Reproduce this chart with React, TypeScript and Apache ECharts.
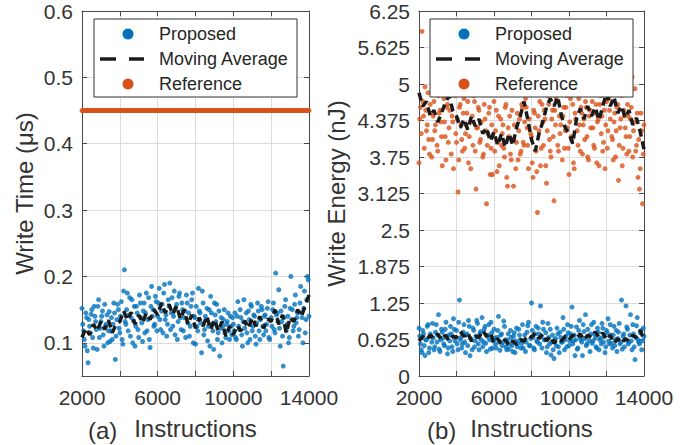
import React, { useEffect, useRef } from "react";
import * as echarts from "echarts";

// ---- data ----
// Scatter samples: set A at 2000 + 80·i, set B at 2040 + 80·i
const SCATTER_START_A = 2000;
const SCATTER_START_B = 2040;
const SCATTER_STEP = 80;
const MA_START = 2000;
const MA_STEP = 200;

const xTickLabels = [2000, 6000, 10000, 14000];
const timeTicks = [0.1, 0.2, 0.3, 0.4, 0.5, 0.6];
const energyTicks = [0, 0.625, 1.25, 1.875, 2.5, 3.125, 3.75, 4.375, 5, 5.625, 6.25];

const referenceTime = 0.45; // µs, constant for the reference design

const proposedTimeA = [
  0.152, 0.118, 0.095, 0.138, 0.070, 0.125, 0.143, 0.108, 0.155, 0.132,
  0.090, 0.165, 0.122, 0.140, 0.112, 0.158, 0.128, 0.100, 0.147, 0.118,
  0.105, 0.160, 0.075, 0.135, 0.150, 0.115, 0.162, 0.098, 0.210, 0.128,
  0.175, 0.142, 0.110, 0.165, 0.133, 0.095, 0.155, 0.120, 0.172, 0.138,
  0.102, 0.160, 0.145, 0.118, 0.168, 0.093, 0.185, 0.150, 0.128, 0.162,
  0.140, 0.182, 0.120, 0.158, 0.175, 0.135, 0.110, 0.165, 0.190, 0.145,
  0.125, 0.178, 0.152, 0.105, 0.170, 0.138, 0.160, 0.118, 0.148, 0.172,
  0.130, 0.110, 0.155, 0.175, 0.140, 0.098, 0.125, 0.182, 0.145, 0.085,
  0.160, 0.120, 0.135, 0.103, 0.150, 0.170, 0.128, 0.090, 0.142, 0.158,
  0.115, 0.080, 0.138, 0.125, 0.150, 0.108, 0.132, 0.118, 0.140, 0.112,
  0.128, 0.145, 0.105, 0.162, 0.120, 0.138, 0.095, 0.165, 0.130, 0.115,
  0.148, 0.105, 0.155, 0.125, 0.140, 0.098, 0.160, 0.118, 0.135, 0.150,
  0.112, 0.142, 0.128, 0.162, 0.105, 0.138, 0.150, 0.120, 0.205, 0.145,
  0.180, 0.095, 0.132, 0.065, 0.155, 0.118, 0.140, 0.108, 0.200, 0.150,
  0.125, 0.172, 0.138, 0.110, 0.160, 0.145, 0.100, 0.178, 0.135, 0.200,
  0.140,
];

const proposedTimeB = [
  0.128, 0.105, 0.145, 0.088, 0.135, 0.115, 0.150, 0.092, 0.140, 0.120,
  0.155, 0.108, 0.132, 0.148, 0.095, 0.125, 0.142, 0.118, 0.102, 0.138,
  0.128, 0.145, 0.110, 0.158, 0.122, 0.140, 0.105, 0.178, 0.132, 0.150,
  0.118, 0.168, 0.138, 0.100, 0.155, 0.125, 0.145, 0.108, 0.160, 0.130,
  0.148, 0.115, 0.175, 0.135, 0.105, 0.155, 0.140, 0.125, 0.170, 0.118,
  0.160, 0.135, 0.148, 0.115, 0.188, 0.142, 0.128, 0.155, 0.120, 0.168,
  0.140, 0.112, 0.158, 0.132, 0.175, 0.120, 0.150, 0.138, 0.108, 0.160,
  0.145, 0.125, 0.165, 0.100, 0.138, 0.155, 0.118, 0.148, 0.130, 0.178,
  0.112, 0.140, 0.152, 0.125, 0.095, 0.145, 0.118, 0.160, 0.132, 0.105,
  0.148, 0.122, 0.100, 0.135, 0.115, 0.128, 0.145, 0.105, 0.125, 0.138,
  0.118, 0.108, 0.140, 0.125, 0.150, 0.112, 0.132, 0.122, 0.145, 0.100,
  0.135, 0.158, 0.118, 0.142, 0.110, 0.130, 0.148, 0.105, 0.155, 0.125,
  0.140, 0.118, 0.152, 0.108, 0.135, 0.125, 0.160, 0.115, 0.142, 0.132,
  0.122, 0.148, 0.110, 0.138, 0.165, 0.128, 0.100, 0.152, 0.135, 0.118,
  0.158, 0.130, 0.145, 0.120, 0.185, 0.138, 0.152, 0.115, 0.165, 0.195,
];

const movingAvgTime = [
  0.108, 0.122, 0.112, 0.128, 0.118, 0.132, 0.120, 0.134, 0.115, 0.128,
  0.132, 0.148, 0.134, 0.146, 0.128, 0.142, 0.130, 0.145, 0.135, 0.150,
  0.142, 0.160, 0.145, 0.158, 0.143, 0.156, 0.136, 0.150, 0.128, 0.142,
  0.122, 0.138, 0.125, 0.140, 0.120, 0.135, 0.118, 0.132, 0.110, 0.125,
  0.112, 0.126, 0.118, 0.133, 0.122, 0.138, 0.125, 0.140, 0.122, 0.136,
  0.132, 0.150, 0.128, 0.142, 0.115, 0.138, 0.132, 0.150, 0.140, 0.156,
  0.172,
];

const proposedEnergyA = [
  0.82, 0.55, 0.40, 0.72, 0.35, 0.62, 0.88, 0.48, 0.68, 0.90,
  0.45, 0.75, 0.58, 1.05, 0.42, 0.80, 0.65, 0.52, 0.92, 0.38,
  0.70, 0.85, 0.50, 0.98, 0.60, 0.78, 0.45, 1.30, 0.66, 0.55,
  0.88, 0.40, 0.72, 0.95, 0.35, 0.62, 0.82, 0.50, 0.68, 0.90,
  0.45, 0.76, 1.00, 0.58, 0.85, 0.42, 0.70, 0.62, 0.92, 0.48,
  0.80, 0.55, 0.66, 1.02, 0.44, 0.72, 0.58, 0.85, 0.50, 0.62,
  0.46, 0.78, 0.52, 0.68, 0.40, 0.82, 0.56, 0.70, 0.48, 0.88,
  0.60, 0.42, 0.75, 0.92, 0.52, 1.25, 0.66, 0.45, 0.85, 0.58,
  0.72, 1.20, 0.48, 0.80, 0.62, 0.40, 0.90, 0.55, 0.36, 0.70,
  0.30, 0.64, 0.82, 0.50, 0.75, 0.58, 1.00, 0.45, 0.68, 0.88,
  0.52, 0.72, 1.18, 0.60, 0.35, 0.84, 0.48, 0.95, 0.62, 0.35,
  0.76, 1.05, 0.55, 0.68, 0.42, 0.88, 0.60, 0.72, 0.50, 0.82,
  0.45, 0.65, 0.90, 0.58, 0.40, 0.78, 0.98, 0.55, 0.70, 0.48,
  0.85, 0.62, 0.42, 0.75, 0.55, 1.30, 0.68, 0.50, 1.20, 0.80,
  0.58, 1.05, 0.45, 0.72, 0.28, 0.86, 0.62, 0.55, 0.78, 0.60,
  0.68,
];

const proposedEnergyB = [
  0.68, 0.45, 0.78, 0.52, 0.62, 0.85, 0.40, 0.72, 0.58, 0.65,
  0.50, 0.88, 0.70, 0.46, 0.62, 0.75, 0.55, 0.80, 0.68, 0.48,
  0.60, 0.72, 0.42, 0.80, 0.66, 0.55, 0.92, 0.62, 0.48, 0.75,
  0.58, 0.70, 0.52, 0.85, 0.64, 0.45, 0.78, 0.60, 0.95, 0.55,
  0.72, 0.62, 0.50, 0.80, 0.56, 0.68, 0.88, 0.46, 0.74, 0.60,
  0.65, 0.48, 0.78, 0.58, 0.70, 0.52, 0.94, 0.62, 0.45, 0.72,
  0.55, 0.66, 0.42, 0.74, 0.60, 0.50, 0.80, 0.62, 0.56, 0.48,
  0.70, 0.58, 0.86, 0.52, 0.64, 0.78, 0.48, 0.72, 0.60, 0.82,
  0.55, 0.68, 0.92, 0.62, 0.74, 0.50, 0.66, 0.80, 0.58, 0.45,
  0.62, 0.52, 0.72, 0.40, 0.66, 0.58, 0.80, 0.62, 0.50, 0.74,
  0.60, 0.85, 0.55, 0.70, 0.62, 0.46, 0.78, 0.66, 0.58, 0.88,
  0.64, 0.52, 0.80, 0.60, 0.72, 0.56, 0.92, 0.65, 0.48, 0.75,
  0.62, 0.55, 0.82, 0.68, 0.50, 0.74, 0.60, 0.88, 0.56, 0.70,
  0.52, 0.78, 0.64, 0.90, 0.58, 0.46, 0.72, 0.62, 0.84, 0.55,
  0.70, 0.60, 0.88, 0.50, 0.66, 1.00, 0.58, 0.74, 0.45, 0.82,
];

const movingAvgProposedEnergy = [
  0.60, 0.68, 0.62, 0.70, 0.64, 0.72, 0.62, 0.70, 0.60, 0.68,
  0.66, 0.76, 0.68, 0.74, 0.60, 0.68, 0.66, 0.78, 0.68, 0.74,
  0.56, 0.64, 0.54, 0.62, 0.52, 0.60, 0.54, 0.62, 0.60, 0.70,
  0.66, 0.74, 0.64, 0.72, 0.60, 0.68, 0.56, 0.64, 0.60, 0.68,
  0.62, 0.70, 0.64, 0.72, 0.62, 0.70, 0.66, 0.76, 0.66, 0.74,
  0.62, 0.70, 0.56, 0.64, 0.56, 0.64, 0.60, 0.70, 0.66, 0.78,
  0.62,
];

const referenceEnergyA = [
  3.65, 4.60, 5.90, 4.45, 4.95, 4.20, 4.85, 3.80, 4.50, 4.05,
  4.70, 4.30, 3.95, 4.80, 4.55, 4.10, 4.90, 4.35, 3.70, 4.65,
  4.25, 5.10, 4.45, 3.55, 4.80, 4.00, 3.15, 4.60, 4.30, 3.85,
  4.75, 4.15, 4.50, 3.65, 4.95, 4.35, 3.95, 4.70, 3.20, 4.25,
  4.55, 4.05, 4.85, 3.80, 4.40, 2.95, 4.15, 4.60, 3.90, 3.45,
  4.70, 4.20, 3.50, 4.45, 5.00, 3.95, 4.30, 3.75, 4.65, 3.25,
  4.10, 3.80, 4.55, 3.25, 4.90, 4.00, 3.70, 4.40, 3.85, 4.60,
  3.95, 4.75, 4.25, 3.55, 5.05, 4.10, 3.40, 4.50, 3.85, 2.80,
  4.20, 3.60, 4.65, 3.95, 4.40, 3.30, 4.80, 4.05, 3.75, 4.55,
  3.00, 4.30, 4.70, 3.85, 4.15, 5.10, 4.45, 3.90, 4.60, 4.25,
  3.45, 4.75, 4.05, 3.65, 4.50, 4.85, 3.95, 4.30, 4.60, 3.80,
  4.40, 4.70, 4.10, 3.70, 4.55, 4.95, 4.25, 3.90, 4.65, 4.35,
  3.60, 4.80, 4.45, 4.00, 3.55, 4.70, 4.20, 4.55, 5.00, 4.05,
  4.35, 3.75, 4.60, 3.35, 4.25, 4.80, 3.90, 4.45, 4.10, 4.65,
  3.85, 4.40, 5.12, 4.20, 4.92, 3.95, 3.40, 3.20, 4.50, 2.95,
  4.30,
];

const referenceEnergyB = [
  4.40, 4.15, 4.70, 3.90, 4.55, 4.30, 4.05, 4.65, 3.75, 4.45,
  4.20, 4.85, 3.85, 4.50, 4.35, 3.60, 4.75, 4.10, 4.60, 4.00,
  4.55, 3.80, 4.35, 4.90, 4.15, 4.40, 3.70, 4.65, 4.05, 4.50,
  3.90, 4.30, 4.70, 4.10, 3.55, 4.45, 4.80, 3.85, 4.25, 4.60,
  4.00, 4.35, 3.75, 4.65, 4.20, 3.95, 4.50, 3.45, 4.30, 4.10,
  3.85, 4.55, 4.00, 3.60, 4.40, 4.15, 3.90, 4.60, 3.40, 4.25,
  4.45, 3.70, 4.05, 4.30, 3.55, 4.50, 4.20, 3.80, 4.65, 4.00,
  4.35, 4.60, 3.95, 4.40, 4.15, 3.65, 4.55, 4.25, 3.50, 4.45,
  4.70, 3.90, 4.35, 4.55, 3.60, 4.20, 4.65, 3.85, 4.40, 4.10,
  4.55, 4.75, 3.95, 4.45, 4.30, 3.70, 4.60, 4.20, 4.80, 3.90,
  4.35, 4.10, 4.65, 3.55, 4.40, 4.20, 4.75, 3.85, 4.50, 4.30,
  4.05, 4.60, 3.75, 4.45, 4.25, 4.70, 3.95, 4.50, 3.65, 4.40,
  4.65, 4.15, 3.85, 4.55, 4.30, 3.90, 4.75, 4.40, 4.10, 3.70,
  4.50, 4.20, 4.65, 3.95, 4.40, 3.60, 4.55, 4.25, 3.80, 4.45,
  4.10, 4.60, 3.75, 4.35, 3.85, 4.50, 4.05, 3.55, 4.20, 3.80,
];

const movingAvgReferenceEnergy = [
  4.85, 4.62, 4.70, 4.45, 4.55, 4.35, 4.50, 4.68, 4.80, 4.55,
  4.45, 4.25, 4.40, 4.22, 4.45, 4.28, 4.40, 4.15, 4.25, 4.02,
  4.18, 3.95, 4.15, 3.92, 4.15, 3.95, 4.25, 4.45, 4.70, 4.40,
  4.05, 3.85, 4.15, 4.35, 4.60, 4.75, 4.62, 4.78, 4.45, 4.25,
  4.15, 3.98, 4.40, 4.58, 4.40, 4.62, 4.45, 4.60, 4.38, 4.62,
  4.85, 4.62, 4.78, 4.50, 4.62, 4.42, 4.55, 4.30, 4.42, 4.18,
  3.88,
];

// ---- styling ----
const BLUE = "#0072BD";
const ORANGE = "#D95319";
const MA_COLOR = "#1a1a1a";
const TEXT = "#333333";
const AXIS = "#4a4a4a";
const GRIDLINE = "#dcdcdc";
const FONT = "Liberation Sans, Arial, Helvetica, sans-serif";

const scatterPts = (a: number[], b: number[]) => [
  ...a.map((v, i) => [SCATTER_START_A + i * SCATTER_STEP, v]),
  ...b.map((v, i) => [SCATTER_START_B + i * SCATTER_STEP, v]),
];
const maPts = (vals: number[]) => vals.map((v, i) => [MA_START + i * MA_STEP, v]);

function xAxes(gridIndex: number) {
  const base = {
    type: "value",
    gridIndex,
    min: 2000,
    max: 14000,
    interval: 2000,
    axisLine: { show: true, onZero: false, lineStyle: { color: AXIS, width: 1 } },
    axisTick: { show: true, inside: true, length: 5, lineStyle: { color: AXIS } },
  };
  return [
    {
      ...base,
      position: "bottom",
      name: "Instructions",
      nameLocation: "middle",
      nameGap: 40,
      nameTextStyle: { fontSize: 24, color: TEXT, fontFamily: FONT },
      axisLabel: {
        show: true,
        margin: 11,
        fontSize: 21,
        color: TEXT,
        fontFamily: FONT,
        formatter: (v: number) => (xTickLabels.includes(v) ? String(v) : ""),
      },
      splitLine: { show: true, lineStyle: { color: GRIDLINE, width: 1 } },
    },
    {
      ...base,
      position: "top",
      axisLabel: { show: false },
      splitLine: { show: false },
    },
  ];
}

function yAxes(
  gridIndex: number,
  min: number,
  max: number,
  ticks: number[],
  name: string,
  nameGap: number
) {
  const base = {
    type: "value",
    gridIndex,
    min,
    max,
    axisLine: { show: true, onZero: false, lineStyle: { color: AXIS, width: 1 } },
    axisTick: {
      show: true,
      inside: true,
      length: 5,
      customValues: ticks,
      lineStyle: { color: AXIS },
    },
  };
  return [
    {
      ...base,
      position: "left",
      name,
      nameLocation: "middle",
      nameGap,
      nameTextStyle: { fontSize: 24, color: TEXT, fontFamily: FONT },
      axisLabel: {
        show: true,
        margin: 9,
        fontSize: 21,
        color: TEXT,
        fontFamily: FONT,
        customValues: ticks,
      },
      splitLine: { show: true, lineStyle: { color: GRIDLINE, width: 1 } },
    },
    {
      ...base,
      position: "right",
      axisLabel: { show: false },
      splitLine: { show: false },
    },
  ];
}

function legendGraphic(left: number) {
  const top = 19;
  const labels = ["Proposed", "Moving Average", "Reference"];
  const rows = [34, 59, 84];
  const els: any[] = [
    {
      type: "rect",
      shape: { x: left, y: top, width: 203, height: 78 },
      style: { fill: "#ffffff", stroke: "#333333", lineWidth: 1 },
      z: 100,
    },
    {
      type: "circle",
      shape: { cx: left + 34, cy: rows[0], r: 5.5 },
      style: { fill: BLUE },
      z: 101,
    },
    {
      type: "line",
      shape: { x1: left + 6, y1: rows[1], x2: left + 22, y2: rows[1] },
      style: { stroke: MA_COLOR, lineWidth: 3.5 },
      z: 101,
    },
    {
      type: "line",
      shape: { x1: left + 35, y1: rows[1], x2: left + 50, y2: rows[1] },
      style: { stroke: MA_COLOR, lineWidth: 3.5 },
      z: 101,
    },
    {
      type: "circle",
      shape: { cx: left + 34, cy: rows[2], r: 5.5 },
      style: { fill: ORANGE },
      z: 101,
    },
  ];
  labels.forEach((t, i) => {
    els.push({
      type: "text",
      x: left + 65,
      y: rows[i],
      style: {
        text: t,
        fontSize: 18,
        fontFamily: FONT,
        fill: "#262626",
        verticalAlign: "middle",
        align: "left",
      },
      z: 101,
    });
  });
  return els;
}

export default function App() {
  const ref = useRef<HTMLDivElement>(null);

  useEffect(() => {
    document.body.style.margin = "0";
    if (!ref.current) return;
    const chart = echarts.init(ref.current, undefined, { renderer: "svg" });

    const dashed = {
      type: "line",
      showSymbol: false,
      symbol: "none",
      lineStyle: { color: MA_COLOR, width: 3.5, type: [8, 5] },
      z: 5,
    };

    const refTimePts = [
      ...proposedTimeA.map((_, i) => [SCATTER_START_A + i * SCATTER_STEP, referenceTime]),
      ...proposedTimeB.map((_, i) => [SCATTER_START_B + i * SCATTER_STEP, referenceTime]),
    ];

    chart.setOption({
      animation: false,
      backgroundColor: "#ffffff",
      grid: [
        { left: 82, top: 11, width: 227, height: 366 },
        { left: 419, top: 11, width: 225, height: 366 },
      ],
      xAxis: [...xAxes(0), ...xAxes(1)],
      yAxis: [
        ...yAxes(0, 0.05, 0.6, timeTicks, "Write Time (μs)", 46),
        ...yAxes(1, 0, 6.25, energyTicks, "Write Energy (nJ)", 71),
      ],
      series: [
        {
          name: "Proposed",
          type: "scatter",
          xAxisIndex: 0,
          yAxisIndex: 0,
          symbolSize: 5,
          itemStyle: { color: BLUE },
          data: scatterPts(proposedTimeA, proposedTimeB),
          z: 3,
        },
        {
          name: "Reference",
          type: "scatter",
          xAxisIndex: 0,
          yAxisIndex: 0,
          symbolSize: 5,
          clip: false,
          itemStyle: { color: ORANGE },
          data: refTimePts,
          z: 3,
        },
        {
          ...dashed,
          name: "Moving Average",
          xAxisIndex: 0,
          yAxisIndex: 0,
          data: maPts(movingAvgTime),
        },
        {
          name: "Reference",
          type: "scatter",
          xAxisIndex: 2,
          yAxisIndex: 2,
          symbolSize: 5,
          itemStyle: { color: ORANGE },
          data: scatterPts(referenceEnergyA, referenceEnergyB),
          z: 3,
        },
        {
          name: "Proposed",
          type: "scatter",
          xAxisIndex: 2,
          yAxisIndex: 2,
          symbolSize: 5,
          itemStyle: { color: BLUE },
          data: scatterPts(proposedEnergyA, proposedEnergyB),
          z: 3,
        },
        {
          ...dashed,
          name: "Moving Average",
          xAxisIndex: 2,
          yAxisIndex: 2,
          data: maPts(movingAvgReferenceEnergy),
        },
        {
          ...dashed,
          name: "Moving Average",
          xAxisIndex: 2,
          yAxisIndex: 2,
          data: maPts(movingAvgProposedEnergy),
        },
      ],
      graphic: [
        ...legendGraphic(94),
        ...legendGraphic(430),
        {
          type: "text",
          x: 88,
          y: 430,
          style: { text: "(a)", fontSize: 24, fontFamily: FONT, fill: TEXT, verticalAlign: "middle" },
        },
        {
          type: "text",
          x: 427,
          y: 430,
          style: { text: "(b)", fontSize: 24, fontFamily: FONT, fill: TEXT, verticalAlign: "middle" },
        },
      ],
    });

    return () => chart.dispose();
  }, []);

  return <div ref={ref} style={{ width: 694, height: 445 }} />;
}
